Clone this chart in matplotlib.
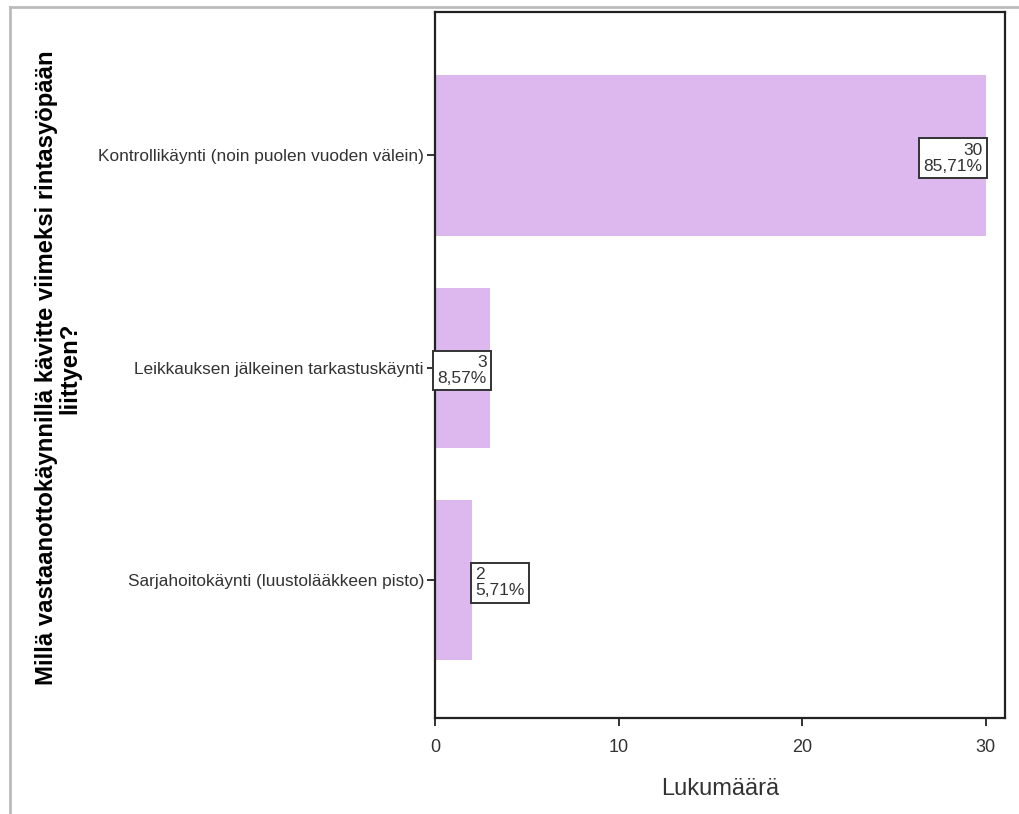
import matplotlib.pyplot as plt
from matplotlib.lines import Line2D

categories = ['Kontrollikäynti (noin puolen vuoden välein)',
              'Leikkauksen jälkeinen tarkastuskäynti',
              'Sarjahoitokäynti (luustolääkkeen pisto)']
counts = [30, 3, 2]
percents = ['85,71%', '8,57%', '5,71%']
x_ticks = [0, 10, 20, 30]

plt.rcParams['font.family'] = ['Liberation Sans', 'DejaVu Sans']

fig = plt.figure(figsize=(10.19, 8.14), dpi=100)
ax = fig.add_axes([0.4269, 0.1179, 0.5594, 0.8673])

ypos = list(range(len(categories)))
ax.barh(ypos, counts, height=0.755, color='#dcb8ee')

# value labels, SPSS style boxes
for i, (c, p) in enumerate(zip(counts, percents)):
    if i < 2:
        ha, dx = 'right', -2.5
    else:
        ha, dx = 'left', 2.5
    ax.annotate(f'{c}\n{p}', xy=(c, i), xytext=(dx, -2), textcoords='offset points',
                ha=ha, va='center', multialignment=ha, fontsize=12.5, color='#333333',
                linespacing=1.1,
                bbox=dict(boxstyle='square,pad=0.25', fc='white', ec='#333333', lw=1.4))

ax.set_yticks(ypos)
ax.set_yticklabels(categories, fontsize=12.4, color='#333333')
ax.set_ylim(2.65, -0.675)
ax.set_xlim(0, 31.05)
ax.set_xticks(x_ticks)
ax.set_xticklabels([str(t) for t in x_ticks], fontsize=13, color='#333333')
ax.tick_params(axis='both', direction='out', length=6, width=1.3, colors='#222222')
ax.tick_params(axis='x', pad=9, labelcolor='#333333')
ax.tick_params(axis='y', pad=2, labelcolor='#333333')
for s in ax.spines.values():
    s.set_linewidth(1.6)
    s.set_color('#222222')

ax.set_xlabel('Lukumäärä', fontsize=17, color='#333333', labelpad=16)
fig.text(0.057, 0.548, 'Millä vastaanottokäynnillä kävitte viimeksi rintasyöpään\nliittyen?',
         rotation=90, ha='center', va='center', fontsize=17.2, fontweight='bold',
         linespacing=1.0)

# outer grey frame of the screenshot
fig.add_artist(Line2D([0.0098, 1.0], [0.9914, 0.9914], color='#bbbbbb', lw=2))
fig.add_artist(Line2D([0.0098, 0.0098], [0.0, 0.9914], color='#bbbbbb', lw=2))

fig.savefig('out.png', dpi=100)
